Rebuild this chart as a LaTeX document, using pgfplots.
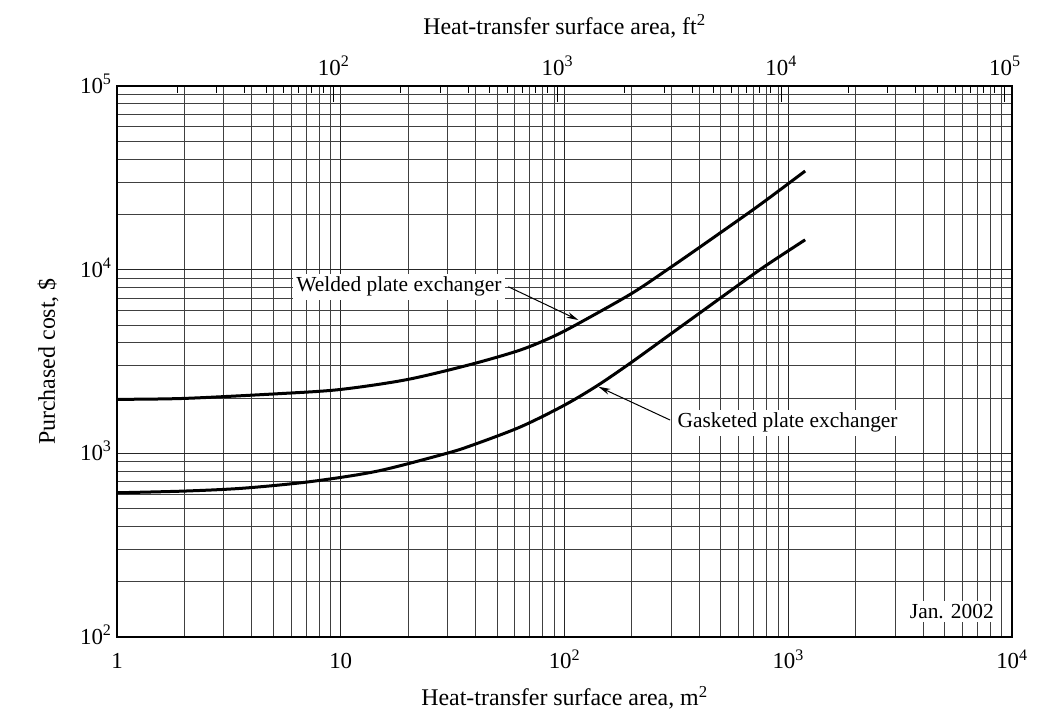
\documentclass[border=0pt]{standalone}
\usepackage{fontspec}
\setmainfont{Liberation Serif}
\usepackage{pgfplots}
\usepackage{pgfplotstable}
\pgfplotsset{compat=1.18}
\usetikzlibrary{arrows.meta}

\pgfplotstableread{
x y
1 1968
2 1991
5.5 2118
10 2228
19.7 2518
37.8 3040
63.3 3648
89.2 4330
117.4 5150
200 7430
297 10260
404 13300
699 21280
985 28970
1190 34440
}\welded

\pgfplotstableread{
x y
1 610
2 623
3.67 646
7.29 701
14.5 799
28.7 988
37.8 1096
63.3 1390
98.9 1817
139.5 2328
196.5 3093
296.6 4443
417.7 6005
610 8381
802 10607
1190 14540
}\gasketed

\begin{document}
\begin{tikzpicture}
\path[use as bounding box] (-117bp,-79bp) rectangle (923bp,637bp);
% main axis (m^2)
\begin{axis}[
  at={(0,0)}, anchor=south west,
  scale only axis, width=895bp, height=551bp,
  xmode=log, ymode=log,
  xmin=1, xmax=1e4, ymin=100, ymax=1e5,
  grid=both,
  major grid style={line width=0.9bp, black!85},
  minor grid style={line width=0.8bp, black!75},
  axis line style={line width=1.4bp, black},
  major tick length=0pt, minor tick length=0pt,
  xtick={1,10,100,1000,10000},
  xticklabels={1,10,10\textsuperscript{2},10\textsuperscript{3},10\textsuperscript{4}},
  ytick={100,1000,10000,100000},
  yticklabels={10\textsuperscript{2},10\textsuperscript{3},10\textsuperscript{4},10\textsuperscript{5}},
  tick label style={font=\fontsize{23}{27}\selectfont},
  x tick label style={anchor=base, yshift=-32bp},
  y tick label style={anchor=base east, yshift=-7.6bp, xshift=-2bp},
  xlabel={Heat-transfer surface area, m\textsuperscript{2}},
  ylabel={Purchased cost, \$},
  label style={font=\fontsize{24}{28}\selectfont},
  x label style={at={(axis description cs:0.5,0)}, anchor=base, yshift=-69bp},
  y label style={at={(axis description cs:0,0.5)}, anchor=base, yshift=62bp},
]
\addplot[black, line width=3bp, smooth] table {\welded};
\addplot[black, line width=3bp, smooth] table {\gasketed};

\node[fill=white, inner sep=3bp, font=\fontsize{21.5}{24}\selectfont] at (axis cs:18.2,8070) {Welded plate exchanger};
\draw[-{Stealth[length=12bp,width=6bp]}, line width=1bp] (axis cs:56.1,8072) -- (axis cs:115.4,5316);

\node[fill=white, inner sep=3bp, font=\fontsize{21.5}{24}\selectfont] at (axis cs:993,1467) {Gasketed plate exchanger};
\draw[-{Stealth[length=12bp,width=6bp]}, line width=1bp] (axis cs:296.5,1518) -- (axis cs:141.8,2305);

\node[fill=white, inner sep=3bp, font=\fontsize{21.5}{24}\selectfont] at (axis cs:5387,137.3) {Jan. 2002};
\end{axis}
% top axis (ft^2)
\begin{axis}[
  at={(0,0)}, anchor=south west,
  scale only axis, width=895bp, height=551bp,
  xmode=log, xmin=10.7639, xmax=107639, ymin=0, ymax=1,
  ytick=\empty,
  axis line style={line width=1.4bp, black},
  xtick pos=right, xticklabel pos=right,
  tick align=inside,
  xtick={100,1000,10000,100000},
  minor xtick={20,30,40,50,60,70,80,90,200,300,400,500,600,700,800,900,2000,3000,4000,5000,6000,7000,8000,9000,20000,30000,40000,50000,60000,70000,80000,90000},
  xticklabels={10\textsuperscript{2},10\textsuperscript{3},10\textsuperscript{4},10\textsuperscript{5}},
  major tick length=16bp, minor tick length=7bp,
  tick style={line width=1bp, black},
  tick label style={font=\fontsize{23}{27}\selectfont},
  x tick label style={anchor=base, yshift=10bp},
  xlabel={Heat-transfer surface area, ft\textsuperscript{2}},
  label style={font=\fontsize{24}{28}\selectfont},
  x label style={at={(axis description cs:0.5,1)}, anchor=base, yshift=51bp},
]
\end{axis}
\end{tikzpicture}
\end{document}
